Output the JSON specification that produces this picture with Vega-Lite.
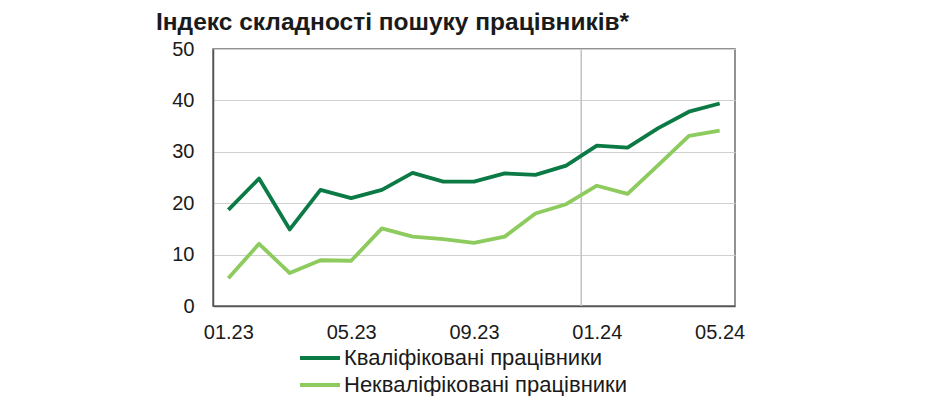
{
  "$schema": "https://vega.github.io/schema/vega-lite/v6.json",
  "width": 522,
  "height": 257,
  "autosize": "none",
  "padding": {"left": 213, "top": 49, "right": 192, "bottom": 90},
  "background": "white",
  "config": {
    "font": "Liberation Sans",
    "view": {"stroke": "#6e6e6e", "strokeWidth": 1.5}
  },
  "title": {
    "text": "Індекс складності пошуку працівників*",
    "anchor": "start",
    "frame": "group",
    "dx": -57,
    "dy": 33,
    "offset": 17.5,
    "baseline": "alphabetic",
    "fontSize": 24.5,
    "fontWeight": "bold",
    "color": "#1a1a1a",
    "font": "Liberation Sans"
  },
  "data": {
    "values": [
      {"month": "01.23", "idx": 0, "series": "Кваліфіковані працівники", "value": 18.7},
      {"month": "02.23", "idx": 1, "series": "Кваліфіковані працівники", "value": 24.8},
      {"month": "03.23", "idx": 2, "series": "Кваліфіковані працівники", "value": 14.9},
      {"month": "04.23", "idx": 3, "series": "Кваліфіковані працівники", "value": 22.6},
      {"month": "05.23", "idx": 4, "series": "Кваліфіковані працівники", "value": 21.0},
      {"month": "06.23", "idx": 5, "series": "Кваліфіковані працівники", "value": 22.6},
      {"month": "07.23", "idx": 6, "series": "Кваліфіковані працівники", "value": 25.9},
      {"month": "08.23", "idx": 7, "series": "Кваліфіковані працівники", "value": 24.2},
      {"month": "09.23", "idx": 8, "series": "Кваліфіковані працівники", "value": 24.2},
      {"month": "10.23", "idx": 9, "series": "Кваліфіковані працівники", "value": 25.8},
      {"month": "11.23", "idx": 10, "series": "Кваліфіковані працівники", "value": 25.5},
      {"month": "12.23", "idx": 11, "series": "Кваліфіковані працівники", "value": 27.3},
      {"month": "01.24", "idx": 12, "series": "Кваліфіковані працівники", "value": 31.2},
      {"month": "02.24", "idx": 13, "series": "Кваліфіковані працівники", "value": 30.8},
      {"month": "03.24", "idx": 14, "series": "Кваліфіковані працівники", "value": 34.6},
      {"month": "04.24", "idx": 15, "series": "Кваліфіковані працівники", "value": 37.8},
      {"month": "05.24", "idx": 16, "series": "Кваліфіковані працівники", "value": 39.4},
      {"month": "01.23", "idx": 0, "series": "Некваліфіковані працівники", "value": 5.4},
      {"month": "02.23", "idx": 1, "series": "Некваліфіковані працівники", "value": 12.1},
      {"month": "03.23", "idx": 2, "series": "Некваліфіковані працівники", "value": 6.4},
      {"month": "04.23", "idx": 3, "series": "Некваліфіковані працівники", "value": 8.9},
      {"month": "05.23", "idx": 4, "series": "Некваліфіковані працівники", "value": 8.8},
      {"month": "06.23", "idx": 5, "series": "Некваліфіковані працівники", "value": 15.1},
      {"month": "07.23", "idx": 6, "series": "Некваліфіковані працівники", "value": 13.5},
      {"month": "08.23", "idx": 7, "series": "Некваліфіковані працівники", "value": 13.0},
      {"month": "09.23", "idx": 8, "series": "Некваліфіковані працівники", "value": 12.3},
      {"month": "10.23", "idx": 9, "series": "Некваліфіковані працівники", "value": 13.5},
      {"month": "11.23", "idx": 10, "series": "Некваліфіковані працівники", "value": 18.0},
      {"month": "12.23", "idx": 11, "series": "Некваліфіковані працівники", "value": 19.8},
      {"month": "01.24", "idx": 12, "series": "Некваліфіковані працівники", "value": 23.4},
      {"month": "02.24", "idx": 13, "series": "Некваліфіковані працівники", "value": 21.8},
      {"month": "03.24", "idx": 14, "series": "Некваліфіковані працівники", "value": 27.4},
      {"month": "04.24", "idx": 15, "series": "Некваліфіковані працівники", "value": 33.1},
      {"month": "05.24", "idx": 16, "series": "Некваліфіковані працівники", "value": 34.1}
    ]
  },
  "layer": [
    {
      "mark": {"type": "rule", "color": "#c4c4c4", "strokeWidth": 1},
      "encoding": {
        "x": {"datum": 11.5, "type": "quantitative"}
      }
    },
    {
      "mark": {"type": "line", "strokeWidth": 3.8, "strokeJoin": "round", "strokeCap": "butt"},
      "encoding": {
        "x": {
          "field": "idx",
          "type": "quantitative",
          "scale": {"domain": [-0.5, 16.5], "nice": false, "zero": false},
          "axis": {
            "title": null,
            "values": [0, 4, 8, 12, 16],
            "labelExpr": "['01.23','02.23','03.23','04.23','05.23','06.23','07.23','08.23','09.23','10.23','11.23','12.23','01.24','02.24','03.24','04.24','05.24'][datum.value]",
            "grid": false,
            "ticks": false,
            "domainColor": "#555555",
            "domainWidth": 1.5,
            "labelFontSize": 20,
            "labelColor": "#1a1a1a",
            "labelPadding": 16,
            "labelFont": "Liberation Sans"
          }
        },
        "y": {
          "field": "value",
          "type": "quantitative",
          "scale": {"domain": [0, 50], "nice": false},
          "axis": {
            "title": null,
            "values": [0, 10, 20, 30, 40, 50],
            "grid": true,
            "gridColor": "#d0d0d0",
            "gridWidth": 1,
            "ticks": false,
            "domainColor": "#555555",
            "domainWidth": 1.5,
            "labelFontSize": 20,
            "labelColor": "#1a1a1a",
            "labelPadding": 19,
            "labelFont": "Liberation Sans"
          }
        },
        "color": {
          "field": "series",
          "type": "nominal",
          "scale": {
            "domain": ["Кваліфіковані працівники", "Некваліфіковані працівники"],
            "range": ["#0b7a45", "#8dcb5e"]
          },
          "legend": {
            "title": null,
            "orient": "none",
            "legendX": 95,
            "legendY": 297,
            "direction": "vertical",
            "symbolType": "M-2,0H2",
            "symbolSize": 400,
            "symbolStrokeWidth": 4,
            "labelFontSize": 22,
            "labelColor": "#1a1a1a",
            "labelOffset": 12,
            "labelLimit": 500,
            "labelFont": "Liberation Sans",
            "rowPadding": 4,
            "padding": 0
          }
        }
      }
    }
  ]
}
